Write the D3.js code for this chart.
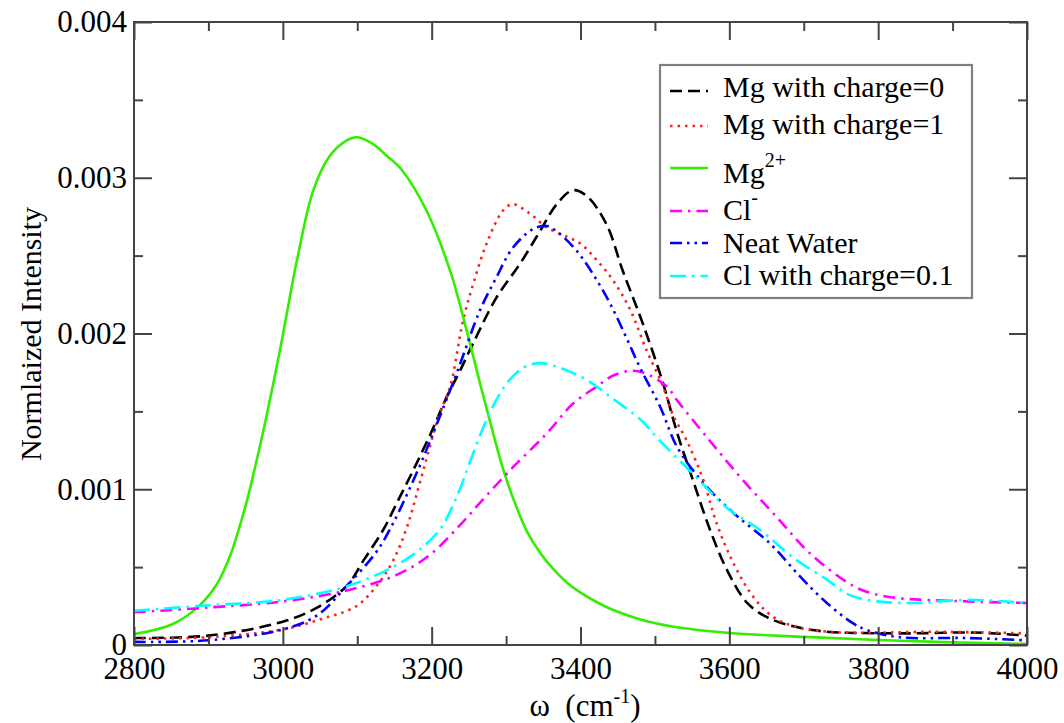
<!DOCTYPE html>
<html>
<head>
<meta charset="utf-8">
<script src="https://cdn.jsdelivr.net/npm/d3@7"></script>
<style>
  body { margin: 0; background: #fff; }
  svg text { font-family: "Liberation Serif", "Times New Roman", serif; fill: #000; }
</style>
</head>
<body>
<div id="chart"></div>
<script>
// Intensities are stored in units of 1e-3
var yUnit = 1e-3;

var mg0X = [2800, 2900, 3000, 3046, 3086, 3108, 3135, 3153, 3175, 3198, 3220, 3238, 3256, 3287, 3319, 3346, 3368, 3390, 3409, 3435, 3457, 3484, 3511, 3530, 3551, 3574, 3597, 3624, 3650, 3686, 3731, 3776, 3850, 3930, 4000];
var mg0Y = [0.045, 0.06, 0.15, 0.24, 0.38, 0.54, 0.74, 0.91, 1.12, 1.35, 1.59, 1.76, 1.94, 2.23, 2.45, 2.66, 2.83, 2.92, 2.88, 2.70, 2.40, 2.06, 1.68, 1.36, 1.06, 0.74, 0.48, 0.27, 0.18, 0.12, 0.085, 0.077, 0.075, 0.08, 0.06];

var mg1X = [2800, 2900, 3000, 3054, 3099, 3126, 3148, 3167, 3184, 3211, 3225, 3242, 3256, 3274, 3296, 3309, 3332, 3355, 3382, 3399, 3422, 3444, 3467, 3489, 3511, 3524, 3543, 3565, 3583, 3605, 3632, 3659, 3695, 3753, 3874, 4000];
var mg1Y = [0.04, 0.05, 0.10, 0.17, 0.25, 0.38, 0.54, 0.76, 1.04, 1.49, 1.66, 2.08, 2.32, 2.58, 2.79, 2.83, 2.77, 2.68, 2.62, 2.58, 2.47, 2.34, 2.15, 1.89, 1.66, 1.48, 1.31, 1.06, 0.78, 0.53, 0.31, 0.18, 0.11, 0.08, 0.085, 0.075];

var mg2X = [2800, 2850, 2885, 2910, 2929, 2940, 2952, 2974, 2996, 3019, 3041, 3063, 3086, 3100, 3120, 3140, 3160, 3194, 3225, 3247, 3265, 3282, 3296, 3312, 3328, 3346, 3363, 3382, 3399, 3426, 3444, 3489, 3540, 3600, 3700, 3800, 3900, 4000];
var mg2Y = [0.07, 0.13, 0.24, 0.38, 0.57, 0.73, 0.93, 1.38, 1.89, 2.47, 2.92, 3.14, 3.24, 3.26, 3.22, 3.14, 3.05, 2.78, 2.40, 2.02, 1.68, 1.37, 1.13, 0.91, 0.73, 0.59, 0.49, 0.40, 0.34, 0.265, 0.225, 0.153, 0.107, 0.077, 0.052, 0.032, 0.017, 0.007];

var clX = [2800, 2898, 3000, 3086, 3153, 3198, 3238, 3270, 3309, 3355, 3390, 3422, 3444, 3467, 3484, 3516, 3530, 3574, 3618, 3664, 3708, 3766, 3793, 3829, 3919, 4000];
var clY = [0.21, 0.24, 0.28, 0.35, 0.45, 0.58, 0.77, 0.94, 1.14, 1.36, 1.55, 1.66, 1.73, 1.76, 1.75, 1.66, 1.57, 1.31, 1.06, 0.82, 0.59, 0.38, 0.33, 0.30, 0.28, 0.27];

var waterX = [2800, 2900, 3000, 3046, 3086, 3126, 3148, 3184, 3207, 3234, 3265, 3287, 3309, 3336, 3355, 3372, 3395, 3417, 3440, 3462, 3480, 3507, 3530, 3565, 3605, 3655, 3695, 3731, 3766, 3785, 3829, 3919, 4000];
var waterY = [0.02, 0.03, 0.10, 0.19, 0.38, 0.60, 0.78, 1.15, 1.42, 1.75, 2.15, 2.36, 2.55, 2.67, 2.69, 2.64, 2.53, 2.38, 2.19, 1.97, 1.78, 1.53, 1.27, 1.04, 0.85, 0.65, 0.44, 0.27, 0.14, 0.096, 0.05, 0.045, 0.03];

var cl01X = [2800, 2885, 3000, 3081, 3135, 3175, 3211, 3225, 3238, 3251, 3278, 3301, 3323, 3346, 3372, 3409, 3444, 3480, 3507, 3551, 3597, 3641, 3686, 3731, 3762, 3800, 3850, 3919, 4000];
var cl01Y = [0.22, 0.25, 0.29, 0.37, 0.47, 0.58, 0.74, 0.86, 1.0, 1.17, 1.49, 1.68, 1.78, 1.81, 1.78, 1.70, 1.58, 1.45, 1.31, 1.10, 0.88, 0.74, 0.56, 0.42, 0.32, 0.28, 0.27, 0.29, 0.27];

var xTicks = [2800, 3000, 3200, 3400, 3600, 3800, 4000];
var xMinorTicks = [2900, 3100, 3300, 3500, 3700, 3900];
var yTicks = [0, 0.001, 0.002, 0.003, 0.004];
var yTickLabels = ["0", "0.001", "0.002", "0.003", "0.004"];
var yMinorTicks = [0.0005, 0.0015, 0.0025, 0.0035];

var series = [
  { name: "Mg with charge=0", sup: "", xs: mg0X, ys: mg0Y, color: "#000000", dash: "12,6" },
  { name: "Mg with charge=1", sup: "", xs: mg1X, ys: mg1Y, color: "#ff2020", dash: "2.5,5" },
  { name: "Mg", sup: "2+", xs: mg2X, ys: mg2Y, color: "#33ee00", dash: null },
  { name: "Cl", sup: "-", xs: clX, ys: clY, color: "#ff00ff", dash: "12,6,2.5,6" },
  { name: "Neat Water", sup: "", xs: waterX, ys: waterY, color: "#0000ff", dash: "12,5,2.5,5,2.5,5" },
  { name: "Cl with charge=0.1", sup: "", xs: cl01X, ys: cl01Y, color: "#00ffff", dash: "16,6,2.5,6" }
];

(function() {
  "use strict";

  var width = 1064, height = 723;
  var margin = { top: 22, right: 37, bottom: 78, left: 134 };
  var frameColor = "#444";

  var svg = d3.select("#chart").append("svg")
    .attr("width", width)
    .attr("height", height);

  var x = d3.scaleLinear().domain([2800, 4000]).range([margin.left, width - margin.right]);
  var y = d3.scaleLinear().domain([0, 0.004]).range([height - margin.bottom, margin.top]);

  var plotBottom = y.range()[0], plotTop = y.range()[1];
  var plotLeft = x.range()[0], plotRight = x.range()[1];

  svg.append("defs").append("clipPath").attr("id", "plot-clip")
    .append("rect")
    .attr("x", plotLeft).attr("y", plotTop)
    .attr("width", plotRight - plotLeft)
    .attr("height", plotBottom - plotTop);

  /* ------- CURVES ------- */

  var line = d3.line()
    .x(function(d) { return x(d[0]); })
    .y(function(d) { return y(d[1] * yUnit); })
    .curve(d3.curveCatmullRom.alpha(0.5));

  svg.append("g")
    .attr("clip-path", "url(#plot-clip)")
    .selectAll("path")
    .data(series)
    .enter()
    .append("path")
    .attr("fill", "none")
    .attr("stroke", function(d) { return d.color; })
    .attr("stroke-width", 2.6)
    .attr("stroke-dasharray", function(d) { return d.dash; })
    .attr("d", function(d) { return line(d3.zip(d.xs, d.ys)); });

  /* ------- AXES (ticks point inward on all sides) ------- */

  function styleAxis(g) {
    g.select(".domain").remove();
    g.selectAll(".tick line").attr("stroke", frameColor).attr("stroke-width", 2);
    g.selectAll(".tick text").attr("font-size", 31).attr("fill", "#000");
  }

  svg.append("g").attr("transform", "translate(0," + plotBottom + ")")
    .call(d3.axisBottom(x).tickValues(xTicks).tickSize(-18).tickPadding(12).tickFormat(d3.format("d")))
    .call(styleAxis);
  svg.append("g").attr("transform", "translate(0," + plotBottom + ")")
    .call(d3.axisBottom(x).tickValues(xMinorTicks).tickSize(-9).tickFormat(""))
    .call(styleAxis);
  svg.append("g").attr("transform", "translate(0," + plotTop + ")")
    .call(d3.axisTop(x).tickValues(xTicks).tickSize(-18).tickFormat(""))
    .call(styleAxis);
  svg.append("g").attr("transform", "translate(0," + plotTop + ")")
    .call(d3.axisTop(x).tickValues(xMinorTicks).tickSize(-9).tickFormat(""))
    .call(styleAxis);

  svg.append("g").attr("transform", "translate(" + plotLeft + ",0)")
    .call(d3.axisLeft(y).tickValues(yTicks).tickSize(-18).tickPadding(7)
      .tickFormat(function(d, i) { return yTickLabels[i]; }))
    .call(styleAxis);
  svg.append("g").attr("transform", "translate(" + plotLeft + ",0)")
    .call(d3.axisLeft(y).tickValues(yMinorTicks).tickSize(-9).tickFormat(""))
    .call(styleAxis);
  svg.append("g").attr("transform", "translate(" + plotRight + ",0)")
    .call(d3.axisRight(y).tickValues(yTicks).tickSize(-18).tickFormat(""))
    .call(styleAxis);
  svg.append("g").attr("transform", "translate(" + plotRight + ",0)")
    .call(d3.axisRight(y).tickValues(yMinorTicks).tickSize(-9).tickFormat(""))
    .call(styleAxis);

  svg.append("rect")
    .attr("x", plotLeft).attr("y", plotTop)
    .attr("width", plotRight - plotLeft).attr("height", plotBottom - plotTop)
    .attr("fill", "none")
    .attr("stroke", frameColor)
    .attr("stroke-width", 2);

  /* ------- AXIS TITLES ------- */

  var xTitle = svg.append("text")
    .attr("x", 585).attr("y", 716)
    .attr("text-anchor", "middle")
    .attr("font-size", 31);
  xTitle.append("tspan").text("ω\u00a0\u00a0(cm");
  xTitle.append("tspan").attr("font-size", 20).attr("dy", -13).text("-1");
  xTitle.append("tspan").attr("dy", 13).text(")");

  svg.append("text")
    .attr("transform", "translate(41,334) rotate(-90)")
    .attr("text-anchor", "middle")
    .attr("font-size", 30)
    .text("Normlaized Intensity");

  /* ------- LEGEND ------- */

  var legendBox = { x: 660, y: 65, w: 312, h: 233 };
  var legendLineY = [91, 126, 168, 211, 243, 276];
  var legendTextY = [97, 134, 183, 220, 253, 285];

  var legend = svg.append("g").attr("class", "legend");
  legend.append("rect")
    .attr("x", legendBox.x).attr("y", legendBox.y)
    .attr("width", legendBox.w).attr("height", legendBox.h)
    .attr("fill", "#fff")
    .attr("stroke", "#808080")
    .attr("stroke-width", 2.2);

  var rows = legend.selectAll("g.row")
    .data(series)
    .enter()
    .append("g")
    .attr("class", "row");

  rows.append("line")
    .attr("x1", 670).attr("x2", 708)
    .attr("y1", function(d, i) { return legendLineY[i]; })
    .attr("y2", function(d, i) { return legendLineY[i]; })
    .attr("stroke", function(d) { return d.color; })
    .attr("stroke-width", 2.6)
    .attr("stroke-dasharray", function(d) { return d.dash; });

  var labels = rows.append("text")
    .attr("x", 723)
    .attr("y", function(d, i) { return legendTextY[i]; })
    .attr("font-size", 30);
  labels.append("tspan").text(function(d) { return d.name; });
  labels.filter(function(d) { return d.sup; })
    .append("tspan")
    .attr("font-size", 20)
    .attr("dy", -16)
    .text(function(d) { return d.sup; });
})();
</script>
</body>
</html>
